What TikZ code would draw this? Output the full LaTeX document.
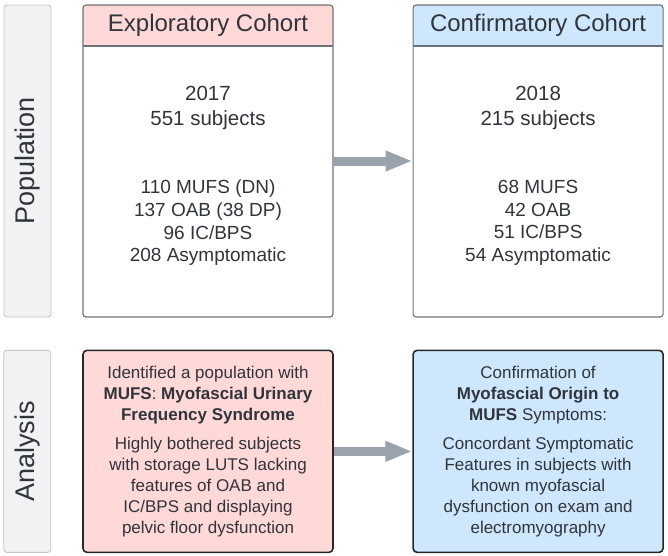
\documentclass[tikz,border=0pt]{standalone}
\usepackage{fontspec}
\setmainfont{Liberation Sans}
\usepackage{tikz}
\usetikzlibrary{positioning,arrows.meta}
\definecolor{inkgray}{HTML}{30343B}
\definecolor{lanefill}{HTML}{F1F2F4}
\definecolor{laneline}{HTML}{C2C5CA}
\definecolor{pinkfill}{HTML}{FFD8D8}
\definecolor{bluefill}{HTML}{CFE7FC}
\definecolor{arrowgray}{HTML}{9AA2AD}
\definecolor{cohortline}{HTML}{6E7177}
\tikzset{
	every node/.style={text=inkgray}, % dark grey text everywhere
	lanebox/.style={draw=laneline, fill=lanefill, line width=0.9pt, rounded corners=3pt, minimum width=47pt, font=\fontsize{27}{32}\selectfont}, % grey boxes on the left
	cohortbox/.style={draw=cohortline, line width=1.1pt, rounded corners=3pt, minimum width=250pt, minimum height=312pt,
		path picture={\fill[#1] (path picture bounding box.north west) rectangle ([yshift=-41pt]path picture bounding box.north east);
			\draw[cohortline, line width=1.1pt] ([yshift=-41pt]path picture bounding box.north west) -- ([yshift=-41pt]path picture bounding box.north east);}}, % box with a coloured header
	headtext/.style={font=\fontsize{24}{29}\selectfont}, % header of the cohort box
	yeartext/.style={align=center, font=\fontsize{20.5}{25}\selectfont}, % year and size
	counttext/.style={align=center, font=\fontsize{19}{22.7}\selectfont}, % the groups
	findingbox/.style={draw=black!85, fill=#1, line width=1.6pt, rounded corners=4pt, minimum width=250pt, minimum height=202pt, align=center, font=\fontsize{17}{21}\selectfont}, % analysis boxes
	bigarrow/.style={draw=arrowgray, line width=9pt, -{Triangle[length=27pt,width=19pt]}}, % thick grey arrow
}

\begin{document}
\begin{tikzpicture}[x=1pt,y=-1pt]
	\useasboundingbox (0,0) rectangle (668,555);
	% population row
	\node[cohortbox=pinkfill] (expl) at (208,161) {};
	\node[cohortbox=bluefill, right=79pt of expl] (conf) {};
	\node[lanebox, minimum height=312pt, left=31pt of expl] (pop) {\rotatebox{90}{Population}};

	\node[headtext] (explhead) at ([yshift=-20.5pt]expl.north) {Exploratory Cohort};
	\node[headtext] (confhead) at ([yshift=-20.5pt]conf.north) {Confirmatory Cohort};
	\node[yeartext] (explyear) at ([yshift=-103.5pt]expl.north) {2017\\551 subjects};
	\node[yeartext] (confyear) at ([yshift=-103.5pt]conf.north) {2018\\215 subjects};
	\node[counttext] (explcount) at ([yshift=-218.5pt]expl.north) {110 MUFS (DN)\\137 OAB (38 DP)\\96 IC/BPS\\208 Asymptomatic};
	\node[counttext] (confcount) at ([yshift=-218.5pt]conf.north) {68 MUFS\\42 OAB\\51 IC/BPS\\54 Asymptomatic};

	% analysis row
	\node[findingbox=pinkfill, below=32pt of expl] (explfind) {Identified a population with\\\textbf{MUFS}: \textbf{Myofascial Urinary}\\\textbf{Frequency Syndrome}\\[8pt]
		Highly bothered subjects\\with storage LUTS lacking\\features of OAB and\\IC/BPS and displaying\\pelvic floor dysfunction};
	\node[findingbox=bluefill, below=32pt of conf] (conffind) {Confirmation of\\\textbf{Myofascial Origin to}\\\textbf{MUFS} Symptoms:\\[8pt]
		Concordant Symptomatic\\Features in subjects with\\known myofascial\\dysfunction on exam and\\electromyography};
	\node[lanebox, minimum height=202pt, left=31pt of explfind] (ana) {\rotatebox{90}{Analysis}};

	\draw[bigarrow] (expl) -- (conf);
	\draw[bigarrow] (explfind) -- (conffind);
\end{tikzpicture}
\end{document}
